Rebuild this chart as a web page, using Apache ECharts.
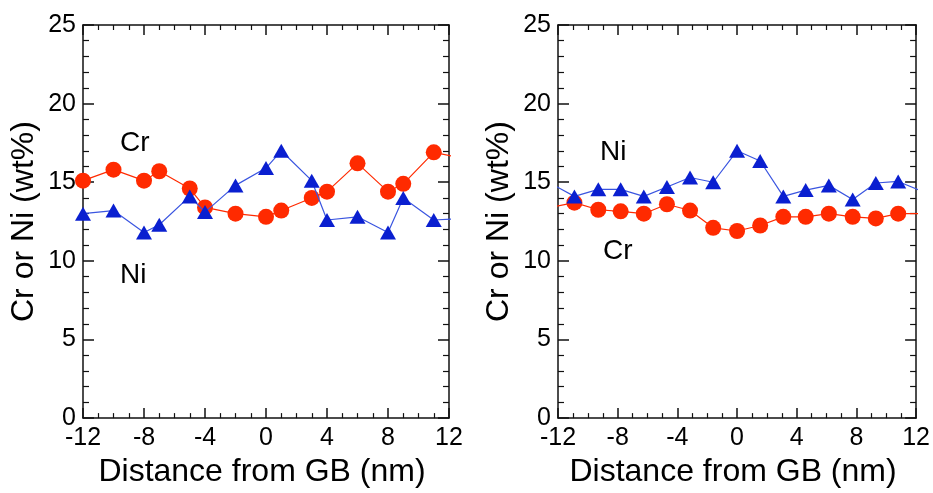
<!DOCTYPE html>
<html>
<head>
<meta charset="utf-8">
<script src="https://cdn.jsdelivr.net/npm/echarts@6/dist/echarts.min.js"></script>
<style>
html,body{margin:0;padding:0;background:#fff;}
#chart{width:933px;height:493px;}
</style>
</head>
<body>
<div id="chart"></div>
<script>
// ---- Data ----
// Left panel
const leftX  = [-12, -10, -8, -7, -5, -4, -2, 0, 1, 3, 4, 6, 8, 9, 11, 13];
const leftCr = [15.1, 15.8, 15.1, 15.7, 14.6, 13.4, 13.0, 12.8, 13.2, 14.0, 14.4, 16.2, 14.4, 14.9, 16.9, 16.5];
const leftNi = [13.0, 13.2, 11.8, 12.3, 14.1, 13.1, 14.8, 15.9, 17.0, 15.1, 12.6, 12.8, 11.8, 14.0, 12.6, 12.7];
// Right panel
const rightX  = [-12.45, -10.9, -9.3, -7.8, -6.25, -4.7, -3.15, -1.6, 0, 1.55, 3.1, 4.6, 6.15, 7.75, 9.3, 10.8, 12.35];
const rightNi = [14.9, 14.1, 14.55, 14.55, 14.1, 14.7, 15.3, 15.0, 17.0, 16.35, 14.1, 14.5, 14.8, 13.9, 14.95, 15.05, 14.45];
const rightCr = [13.4, 13.7, 13.25, 13.15, 13.0, 13.6, 13.2, 12.1, 11.9, 12.25, 12.8, 12.8, 13.0, 12.8, 12.7, 13.0, 13.0];

const xTitle = 'Distance from GB (nm)';
const yTitle = 'Cr or Ni (wt%)';
const labelsLeft  = [{t:'Cr', x:120, y:143}, {t:'Ni', x:120, y:275}];
const labelsRight = [{t:'Ni', x:600, y:152}, {t:'Cr', x:603, y:251}];

const FONT = '"Liberation Sans", Arial, sans-serif';
const RED = '#ff2a00';
const BLUE = '#0a1fd0';
const BLUE_LINE = '#3a55e0';

function zip(xs, ys){ return xs.map((x,i)=>[x, ys[i]]); }

const grids = [
  {left:83, right:484, top:25, bottom:63},
  {left:558, right:12, top:25, bottom:63}
];

function xAxes(gi){
  const common = {
    type:'value', gridIndex:gi, min:-12, max:12, interval:4,
    axisLine:{show:true, onZero:false, lineStyle:{color:'#111', width:1.5}},
    axisTick:{show:true, inside:true, length:10, lineStyle:{color:'#111', width:1.5}},
    minorTick:{show:true, splitNumber:4, length:5, lineStyle:{color:'#111', width:1.2}},
    splitLine:{show:false}, minorSplitLine:{show:false}
  };
  return [
    Object.assign({}, common, {position:'bottom',
      name:xTitle, nameLocation:'middle', nameGap:28,
      nameTextStyle:{fontFamily:FONT, fontSize:32, color:'#000', padding:[0,8,0,0]},
      axisLabel:{show:true, margin:8, fontFamily:FONT, fontSize:25, color:'#000'}}),
    Object.assign({}, common, {position:'top', axisLabel:{show:false}})
  ];
}
function yAxes(gi){
  const common = {
    type:'value', gridIndex:gi, min:0, max:25, interval:5,
    axisLine:{show:true, onZero:false, lineStyle:{color:'#111', width:1.5}},
    axisTick:{show:true, inside:true, length:11, lineStyle:{color:'#111', width:1.5}},
    minorTick:{show:true, splitNumber:5, length:6, lineStyle:{color:'#111', width:1.2}},
    splitLine:{show:false}, minorSplitLine:{show:false}
  };
  return [
    Object.assign({}, common, {position:'left',
      name:yTitle, nameLocation:'middle', nameGap:43, nameRotate:90,
      nameTextStyle:{fontFamily:FONT, fontSize:32, color:'#000'},
      axisLabel:{show:true, margin:7, fontFamily:FONT, fontSize:25, color:'#000', padding:[0,0,8,0]}}),
    Object.assign({}, common, {position:'right', axisLabel:{show:false}})
  ];
}

function crSeries(gi, data){
  return {type:'line', xAxisIndex:gi*2, yAxisIndex:gi*2, data:data, clip:true,
    symbol:'circle', symbolSize:16, showAllSymbol:true,
    lineStyle:{color:RED, width:1.2}, itemStyle:{color:RED, borderWidth:0}, z:2};
}
function niSeries(gi, data){
  return {type:'line', xAxisIndex:gi*2, yAxisIndex:gi*2, data:data, clip:true,
    symbol:'triangle', symbolSize:[16,14], showAllSymbol:true,
    lineStyle:{color:BLUE_LINE, width:1.2}, itemStyle:{color:BLUE, borderWidth:0}, z:3};
}

function textEls(list){
  return list.map(l=>({type:'text', style:{text:l.t, x:l.x, y:l.y, fill:'#000',
    font:'28px ' + FONT, textVerticalAlign:'middle', textAlign:'left'}}));
}

const chart = echarts.init(document.getElementById('chart'), null, {renderer:'canvas'});
chart.setOption({
  backgroundColor:'#fff',
  animation:false,
  grid:grids,
  xAxis:[...xAxes(0), ...xAxes(1)],
  yAxis:[...yAxes(0), ...yAxes(1)],
  series:[
    crSeries(0, zip(leftX, leftCr)),
    niSeries(0, zip(leftX, leftNi)),
    crSeries(1, zip(rightX, rightCr)),
    niSeries(1, zip(rightX, rightNi))
  ],
  graphic:[...textEls(labelsLeft), ...textEls(labelsRight)]
});
</script>
</body>
</html>
